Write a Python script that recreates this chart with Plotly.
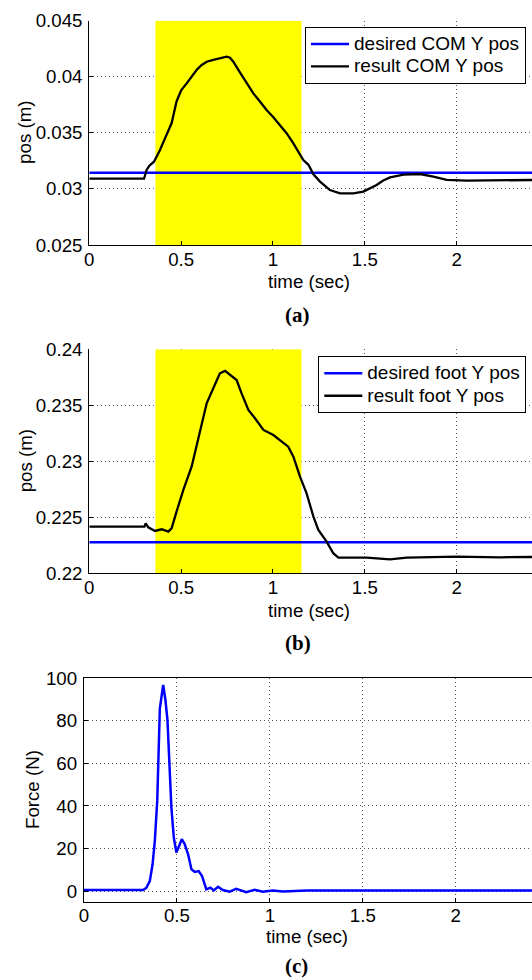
import plotly.graph_objects as go

# ---------------- data ----------------
# (a) COM Y position
t_com = [0, 0.298, 0.312, 0.327, 0.352, 0.385, 0.412, 0.448, 0.475, 0.500, 0.530, 0.557,
         0.584, 0.612, 0.639, 0.675, 0.711, 0.748, 0.766, 0.784, 0.820, 0.856, 0.893,
         0.929, 0.965, 1.002, 1.038, 1.075, 1.111, 1.147, 1.165, 1.193, 1.220, 1.256,
         1.310, 1.365, 1.437, 1.492, 1.528, 1.564, 1.600, 1.637, 1.710, 1.800, 1.873,
         1.946, 2.054, 2.236, 2.45]
com_y = [0.03091, 0.03091, 0.03169, 0.03207, 0.03243, 0.03347, 0.03451, 0.03585, 0.03780,
         0.03880, 0.03941, 0.04000, 0.04060, 0.04105, 0.04134, 0.04150, 0.04163, 0.04179,
         0.04170, 0.04134, 0.04040, 0.03945, 0.03852, 0.03780, 0.03704, 0.03640, 0.03570,
         0.03495, 0.03406, 0.03315, 0.03258, 0.03215, 0.03130, 0.03065, 0.02990, 0.02961,
         0.02961, 0.02976, 0.03005, 0.03035, 0.03075, 0.03103, 0.03127, 0.03133, 0.03109,
         0.03080, 0.03074, 0.03080, 0.03080]
com_desired = 0.03145

# (b) foot Y position
t_foot = [0, 0.300, 0.307, 0.321, 0.358, 0.394, 0.430, 0.448, 0.475, 0.512, 0.557, 0.603,
          0.639, 0.675, 0.711, 0.739, 0.775, 0.802, 0.829, 0.866, 0.902, 0.948, 1.002,
          1.047, 1.083, 1.111, 1.147, 1.183, 1.220, 1.247, 1.292, 1.328, 1.356, 1.510,
          1.637, 1.728, 2.000, 2.236, 2.45]
foot_y = [0.22417, 0.22417, 0.22446, 0.22411, 0.22378, 0.22393, 0.22372, 0.22402, 0.22551,
          0.22744, 0.22952, 0.23280, 0.23518, 0.23652, 0.23786, 0.23807, 0.23756, 0.23726,
          0.23607, 0.23458, 0.23384, 0.23280, 0.23235, 0.23176, 0.23131, 0.23042, 0.22863,
          0.22714, 0.22506, 0.22387, 0.22283, 0.22179, 0.22140, 0.22140, 0.22125, 0.22140,
          0.22149, 0.22143, 0.22146]
foot_desired = 0.22277

# (c) force
t_force = [0, 0.318, 0.336, 0.354, 0.369, 0.381, 0.394, 0.408, 0.426, 0.438, 0.449, 0.462,
           0.470, 0.483, 0.497, 0.512, 0.526, 0.542, 0.560, 0.578, 0.596, 0.617, 0.635,
           0.658, 0.680, 0.698, 0.721, 0.747, 0.784, 0.819, 0.846, 0.873, 0.918, 0.962,
           1.016, 1.070, 1.2, 2.45]
force = [0.5, 0.5, 1.6, 4.7, 12.6, 23.6, 42.5, 85.8, 96.9, 89.8, 80.3, 58.3, 39.4, 25.2,
         18.1, 21.3, 24.4, 22.0, 17.3, 10.2, 9.0, 9.4, 7.1, 0.8, 1.6, 0.3, 2.0, 0.5, -0.3,
         1.1, 0.3, -0.5, 0.6, -0.3, 0.3, -0.2, 0.3, 0.3]

shade = [0.36, 1.155]
x_max = 2.41
x_ticks = [0, 0.5, 1, 1.5, 2]
x_ticktext = ["0", "0.5", "1", "1.5", "2"]
yrange_a = [0.025, 0.045]
yticks_a = [0.025, 0.03, 0.035, 0.04, 0.045]
ytext_a = ["0.025", "0.03", "0.035", "0.04", "0.045"]
yrange_b = [0.22, 0.24]
yticks_b = [0.22, 0.225, 0.23, 0.235, 0.24]
ytext_b = ["0.22", "0.225", "0.23", "0.235", "0.24"]
yrange_c = [-5, 100]
yticks_c = [0, 20, 40, 60, 80, 100]

# ---------------- figure ----------------
W, H = 532, 980
FONT = "Liberation Sans, Arial, Helvetica, sans-serif"
FS = 18.7
LEG_FS = 15
BLUE = "#0000ff"
YELLOW = "#ffff00"


def px_x(p):
    return p / W


def px_y(p):
    return 1 - p / H


def leg_text(s):
    return '<span style="font-size:19px">' + s + '</span>'


fig = go.Figure()

# shaded intervals (drawn first so that they sit under the curves but over the grid)
for xa, ya, yr in (("x", "y", yrange_a), ("x2", "y2", yrange_b)):
    fig.add_trace(go.Scatter(x=[shade[0], shade[1], shade[1], shade[0], shade[0]],
                             y=[yr[0], yr[0], yr[1], yr[1], yr[0]],
                             mode="lines", fill="toself", fillcolor=YELLOW,
                             line=dict(width=0, color=YELLOW), showlegend=False,
                             hoverinfo="skip", xaxis=xa, yaxis=ya))

# panel a
fig.add_trace(go.Scatter(x=[0, x_max + 0.1], y=[com_desired, com_desired], mode="lines",
                         line=dict(color=BLUE, width=2.5), name=leg_text("desired COM Y pos"),
                         xaxis="x", yaxis="y", legend="legend"))
fig.add_trace(go.Scatter(x=t_com, y=com_y, mode="lines",
                         line=dict(color="black", width=2.3), name=leg_text("result COM Y pos"),
                         xaxis="x", yaxis="y", legend="legend"))
# panel b
fig.add_trace(go.Scatter(x=[0, x_max + 0.1], y=[foot_desired, foot_desired], mode="lines",
                         line=dict(color=BLUE, width=2.5), name=leg_text("desired foot Y pos"),
                         xaxis="x2", yaxis="y2", legend="legend2"))
fig.add_trace(go.Scatter(x=t_foot, y=foot_y, mode="lines",
                         line=dict(color="black", width=2.3), name=leg_text("result foot Y pos"),
                         xaxis="x2", yaxis="y2", legend="legend2"))
# panel c
fig.add_trace(go.Scatter(x=t_force, y=force, mode="lines",
                         line=dict(color=BLUE, width=2.5), showlegend=False,
                         xaxis="x3", yaxis="y3"))

dom_a = [px_y(245), px_y(20.7)]
dom_b = [px_y(573.3), px_y(349.3)]
dom_c = [px_y(901.7), px_y(678.3)]

GRID = dict(showgrid=True, gridcolor="#555", griddash="1px,3px", gridwidth=1)


def xaxis(domain, anchor, mirror):
    return dict(domain=domain, anchor=anchor, range=[0, x_max], tickvals=x_ticks,
                ticktext=x_ticktext, showline=True, linecolor="black", linewidth=1.2,
                mirror=mirror, ticks="inside", ticklen=4, tickcolor="black",
                tickfont=dict(family=FONT, size=FS, color="black"), zeroline=False,
                automargin=False, ticklabelstandoff=-3, **GRID)


def yaxis(domain, anchor, rng, tv, tt):
    return dict(domain=domain, anchor=anchor, range=rng, tickvals=tv, ticktext=tt,
                showline=True, linecolor="black", linewidth=1.2, mirror=False,
                ticks="inside", ticklen=4, tickcolor="black",
                tickfont=dict(family=FONT, size=FS, color="black"), zeroline=False,
                automargin=False, ticklabelstandoff=2, **GRID)


LEG = dict(xanchor="left", yanchor="top", bgcolor="white", bordercolor="black",
           borderwidth=1, font=dict(family=FONT, size=LEG_FS, color="black"),
           itemwidth=38, tracegroupgap=0)

fig.update_layout(
    width=W, height=H,
    margin=dict(l=0, r=0, t=0, b=0, autoexpand=False),
    paper_bgcolor="white", plot_bgcolor="white",
    xaxis=xaxis([px_x(89.3), 1], "y", False),
    yaxis=yaxis(dom_a, "x", yrange_a, yticks_a, ytext_a),
    xaxis2=xaxis([px_x(89.3), 1], "y2", False),
    yaxis2=yaxis(dom_b, "x2", yrange_b, yticks_b, ytext_b),
    xaxis3=xaxis([px_x(84), 1], "y3", True),
    yaxis3=yaxis(dom_c, "x3", yrange_c, yticks_c, [str(v) for v in yticks_c]),
    legend=dict(x=px_x(305), y=px_y(26.7), **LEG),
    legend2=dict(x=px_x(318.3), y=px_y(356), **LEG),
    showlegend=True,
)

# axis titles and captions
ann = []
for (cx, cy, txt) in ((25, 132.9, "pos (m)"), (25, 461.3, "pos (m)"), (32, 790, "Force (N)")):
    ann.append(dict(x=px_x(cx), y=px_y(cy), xref="paper", yref="paper", text=txt,
                    textangle=-90, showarrow=False, xanchor="center", yanchor="middle",
                    font=dict(family=FONT, size=FS, color="black")))
for (cx, cy) in ((309.3, 281.7), (309.3, 610), (306.7, 936.7)):
    ann.append(dict(x=px_x(cx), y=px_y(cy), xref="paper", yref="paper", text="time (sec)",
                    showarrow=False, xanchor="center", yanchor="middle",
                    font=dict(family=FONT, size=FS, color="black")))
for (cx, cy, txt) in ((297, 315, "(a)"), (297.7, 643, "(b)"), (296.7, 965.5, "(c)")):
    ann.append(dict(x=px_x(cx), y=px_y(cy), xref="paper", yref="paper", text="<b>" + txt + "</b>",
                    showarrow=False, xanchor="center", yanchor="middle", borderpad=0,
                    font=dict(family="Liberation Serif, Times New Roman, serif", size=21,
                              color="black")))
fig.update_layout(annotations=ann)

fig.write_html("out.html")
